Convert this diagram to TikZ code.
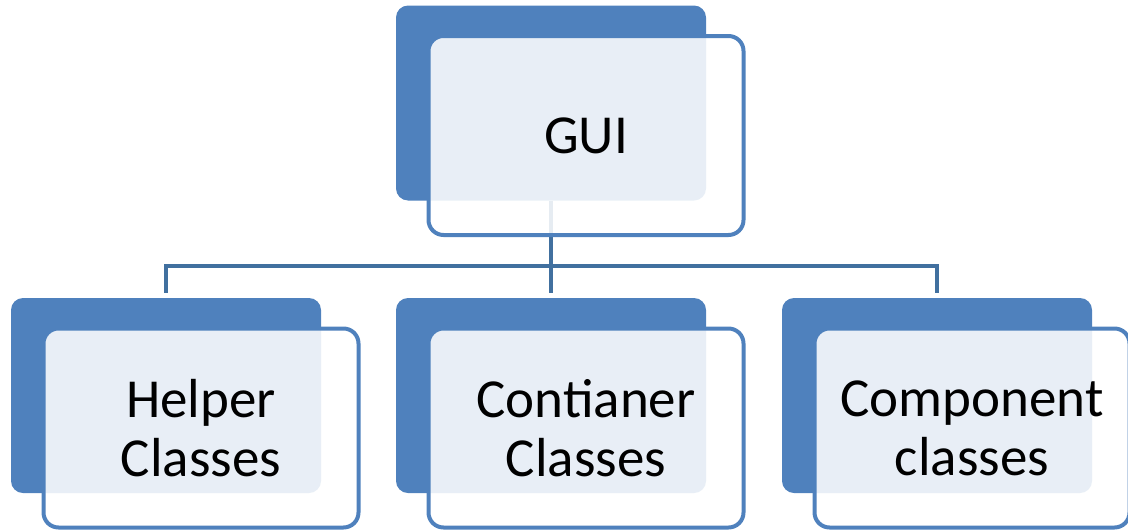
\documentclass[tikz,border=0pt]{standalone}
\usepackage{fontspec}
\setmainfont{Carlito}
\usepackage{tikz}
\usetikzlibrary{positioning, calc}
\definecolor{tabblue}{HTML}{4F81BD}
\definecolor{linkblue}{HTML}{41709F}

\begin{document}
\begin{tikzpicture}[
  x=0.5pt, y=-0.5pt,
  every node/.style={font=\fontsize{27.5}{29.5}\selectfont},
  backtab/.style={fill=tabblue, rounded corners=6pt, minimum width=155pt, minimum height=97.5pt, inner sep=0pt},
  frontcard/.style={draw=tabblue, line width=2pt, fill=white, fill opacity=0.87, text opacity=1, rounded corners=7.5pt, minimum width=157.5pt, minimum height=99.5pt, inner sep=0pt, align=center},
  link/.style={draw=linkblue, line width=2pt}
]
\useasboundingbox (0,0) rectangle (1128,530);
% back tabs
\foreach \n/\x/\y in {gui/551/103, helper/166/395.5, contianer/551/395.5, component/937/395.5}
  \node[backtab] (\n-tab) at (\x,\y) {};

% links
\coordinate (bus) at (551,266);
\draw[link] (gui-tab.south) -- (bus);
\draw[link, shorten >=2.5pt] (bus) -| (helper-tab.north);
\draw[link, shorten >=2.5pt] (bus) -- (contianer-tab.north);
\draw[link, shorten >=2.5pt] (bus) -| (component-tab.north);

% front cards
\foreach \n/\t in {gui/GUI, helper/{Helper\\Classes}, contianer/{Contianer\\Classes}, component/{Component\\classes}}
  \node[frontcard] (\n) at ([shift={(35,32.5)}]\n-tab.center) {\t};
\end{tikzpicture}
\end{document}
